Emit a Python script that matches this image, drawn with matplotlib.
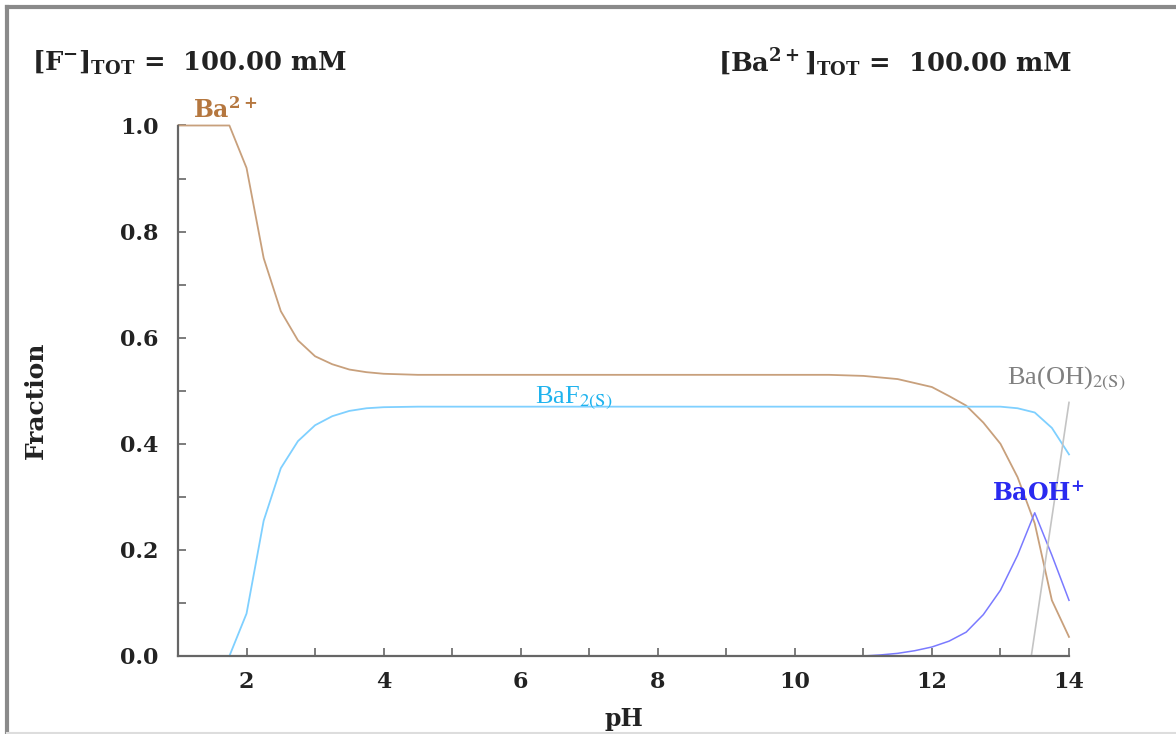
import matplotlib
matplotlib.use("Agg")
import matplotlib.pyplot as plt
from matplotlib.lines import Line2D
from matplotlib.ticker import MultipleLocator

# Ba2+ free ion
ba_ph = [1.0, 1.75, 2.0, 2.25, 2.5, 2.75, 3.0, 3.25, 3.5, 3.75, 4.0, 4.5, 5.0,
         10.5, 11.0, 11.5, 12.0, 12.25, 12.5, 12.75, 13.0, 13.25, 13.5, 13.75, 14.0]
ba_frac = [1.0, 1.0, 0.92, 0.75, 0.65, 0.595, 0.565, 0.55, 0.54, 0.535, 0.532, 0.530, 0.53,
           0.53, 0.528, 0.522, 0.507, 0.49, 0.472, 0.44, 0.40, 0.337, 0.25, 0.105, 0.036]

# BaF2 solid
baf2_ph = [1.75, 2.0, 2.25, 2.5, 2.75, 3.0, 3.25, 3.5, 3.75, 4.0, 4.5,
           12.0, 13.0, 13.25, 13.5, 13.75, 14.0]
baf2_frac = [0.0, 0.08, 0.255, 0.354, 0.405, 0.435, 0.452, 0.462, 0.467, 0.469, 0.47,
             0.47, 0.47, 0.467, 0.459, 0.43, 0.38]

# BaOH+
baoh_ph = [11.0, 11.25, 11.5, 11.75, 12.0, 12.25, 12.5, 12.75, 13.0, 13.25, 13.5, 13.75, 14.0]
baoh_frac = [0.0, 0.002, 0.005, 0.01, 0.017, 0.028, 0.045, 0.078, 0.124, 0.19, 0.27, 0.19, 0.105]

# Ba(OH)2 solid
baoh2_ph = [13.45, 14.0]
baoh2_frac = [0.0, 0.478]

fig = plt.figure(figsize=(11.76, 7.34), dpi=100)
ax = fig.add_axes([178 / 1176, 1 - 656 / 734, (1069 - 178) / 1176, (656 - 125.5) / 734])

ax.plot(ba_ph, ba_frac, color="#c8a07c", lw=1.3, clip_on=False)
ax.plot(baf2_ph, baf2_frac, color="#7fd0ff", lw=1.3, clip_on=False)
ax.plot(baoh_ph, baoh_frac, color="#7a7aff", lw=1.1, clip_on=False)
ax.plot(baoh2_ph, baoh2_frac, color="#c4c4c4", lw=1.2, clip_on=False)

ax.set_xlim(1, 14)
ax.set_ylim(0, 1.0)
for s in ["top", "right"]:
    ax.spines[s].set_visible(False)
for s in ["left", "bottom"]:
    ax.spines[s].set_color("#666666")
    ax.spines[s].set_linewidth(1.6)

ax.xaxis.set_major_locator(MultipleLocator(2))
ax.xaxis.set_minor_locator(MultipleLocator(1))
ax.yaxis.set_major_locator(MultipleLocator(0.2))
ax.yaxis.set_minor_locator(MultipleLocator(0.1))
ax.xaxis.set_major_formatter(lambda v, p: "%d" % v if v > 1 else "")
ax.yaxis.set_major_formatter(lambda v, p: "%.1f" % v)
ax.tick_params(which="both", direction="in", length=6, width=1.2, color="#666666")
ax.tick_params(axis="x", pad=11)
ax.tick_params(axis="y", pad=14)
for lab in ax.get_xticklabels() + ax.get_yticklabels():
    lab.set_fontfamily("DejaVu Serif")
    lab.set_fontweight("bold")
    lab.set_fontsize(16)
    lab.set_color("#222222")

ax.set_xlabel("pH", family="DejaVu Serif", weight="bold", fontsize=17, color="#222222")
ax.xaxis.set_label_coords(0.5, -0.097)
ax.set_ylabel("Fraction", family="DejaVu Serif", weight="bold", fontsize=18, color="#222222")
ax.yaxis.set_label_coords(-0.146, 0.483)

# species labels
ax.text(1.22, 1.015, r"Ba$^{\mathbf{2+}}$", color="#b5773f", family="DejaVu Serif",
        weight="bold", fontsize=17, math_fontfamily="dejavuserif", va="baseline")
ax.text(6.77, 0.476, r"BaF$_{\mathrm{2(S)}}$", color="#1fb3ee", family="Liberation Serif",
        fontsize=19, math_fontfamily="stix", ha="center", va="baseline")
ax.text(13.55, 0.292, r"BaOH$^{\mathbf{+}}$", color="#2a2af0", family="DejaVu Serif",
        weight="bold", fontsize=17, math_fontfamily="dejavuserif", ha="center", va="baseline")
ax.text(13.96, 0.513, r"Ba(OH)$_{\mathrm{2(S)}}$", color="#808080", family="Liberation Serif",
        fontsize=19, math_fontfamily="stix", ha="center", va="baseline")

# totals header
fig.text(32 / 1176, 1 - 63 / 734, r"[F$^{\mathbf{-}}$]$_{\mathbf{TOT}}$ =  100.00 mM",
         family="DejaVu Serif", weight="bold", fontsize=18.5, color="#222222",
         math_fontfamily="dejavuserif", va="center")
fig.text(718 / 1176, 1 - 63 / 734, r"[Ba$^{\mathbf{2+}}$]$_{\mathbf{TOT}}$ =  100.00 mM",
         family="DejaVu Serif", weight="bold", fontsize=18.5, color="#222222",
         math_fontfamily="dejavuserif", va="center")

# outer frame
fig.add_artist(Line2D([7 / 1176, 7 / 1176], [0, 1 - 7 / 734], transform=fig.transFigure,
                      color="#8a8a8a", lw=3))
fig.add_artist(Line2D([7 / 1176, 1], [1 - 7 / 734, 1 - 7 / 734], transform=fig.transFigure,
                      color="#8a8a8a", lw=3))
fig.add_artist(Line2D([7 / 1176, 1], [1.5 / 734, 1.5 / 734], transform=fig.transFigure,
                      color="#dddddd", lw=1.5))

fig.savefig("out.png", dpi=100)
